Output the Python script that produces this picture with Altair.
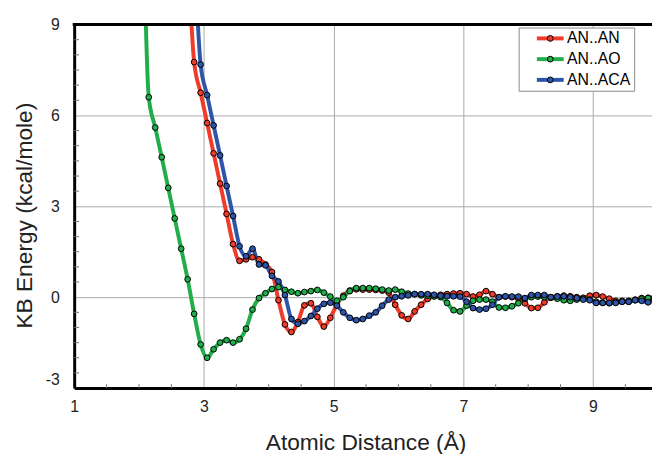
import altair as alt
import pandas as pd

FONT = "Liberation Sans"

series_names = ["AN..AN", "AN..AO", "AN..ACA"]
series_colors = ["#ee3b2a", "#22ad4b", "#2f55a8"]

# sampled every 0.1 Å starting at the given distance
an_an_start = 2.75
an_an = [11.5, 7.76, 6.75, 5.75, 4.75, 3.75, 2.75, 1.75, 1.2, 1.25,
         1.32, 1.25, 1.08, 0.83, -0.1, -0.9, -1.15, -0.82, -0.27, -0.2,
         -0.65, -0.97, -0.68, -0.25, 0.05, 0.22, 0.26, 0.25, 0.25, 0.24,
         0.22, 0.15, -0.25, -0.6, -0.72, -0.47, -0.25, -0.06, 0.03, 0.08,
         0.1, 0.12, 0.13, 0.1, 0.02, 0.08, 0.2, 0.1, 0.0, 0.02,
         0.0, -0.05, -0.2, -0.36, -0.35, -0.17, 0.0, 0.03, 0.05, 0.03,
         0.0, -0.02, 0.05, 0.07, 0.02, -0.05, -0.12, -0.15, -0.12, -0.08,
         -0.03, -0.02, 0.0]

an_ao_start = 2.05
an_ao = [14.0, 6.6, 5.6, 4.62, 3.61, 2.6, 1.6, 0.59, -0.55, -1.56,
         -2.0, -1.72, -1.5, -1.42, -1.5, -1.39, -1.04, -0.41, -0.03, 0.13,
         0.27, 0.33, 0.24, 0.18, 0.13, 0.17, 0.2, 0.24, 0.15, 0.02,
         -0.12, 0.0, 0.2, 0.3, 0.3, 0.3, 0.28, 0.25, 0.22, 0.25,
         0.18, 0.12, 0.1, 0.06, 0.05, 0.03, 0.0, -0.19, -0.43, -0.47,
         -0.28, -0.12, -0.08, -0.08, -0.15, -0.34, -0.35, -0.3, -0.2, -0.05,
         0.0, 0.02, 0.0, -0.02, -0.05, -0.1, -0.12, -0.08, -0.05, -0.08,
         -0.15, -0.18, -0.2, -0.17, -0.12, -0.15, -0.1, -0.05, -0.03, -0.02]

an_aca_start = 2.85
an_aca = [11.6, 7.68, 6.67, 5.67, 4.68, 3.67, 2.68, 1.68, 1.35, 1.6,
          1.08, 1.05, 0.7, 0.52, 0.07, -0.72, -0.88, -0.79, -0.62, -0.38,
          -0.22, -0.18, -0.28, -0.5, -0.68, -0.76, -0.72, -0.61, -0.5, -0.28,
          -0.08, 0.0, 0.03, 0.06, 0.1, 0.1, 0.1, 0.08, 0.05, 0.03,
          0.03, 0.02, -0.15, -0.36, -0.41, -0.38, -0.25, 0.0, 0.03, 0.02,
          0.02, -0.03, 0.07, 0.07, 0.07, 0.0, 0.02, 0.03, 0.0, -0.03,
          -0.08, -0.1, -0.19, -0.19, -0.19, -0.19, -0.15, -0.15, -0.1, -0.12,
          -0.17, -0.1]

x_ticks = [1, 3, 5, 7, 9]
y_ticks = [-3, 0, 3, 6, 9]
x_minor = [1.5, 2, 2.5, 3.5, 4, 4.5, 5.5, 6, 6.5, 7.5, 8, 8.5, 9.5]
y_minor = [-2.5, -2, -1.5, -1, -0.5, 0.5, 1, 1.5, 2, 2.5, 3.5, 4, 4.5, 5,
           5.5, 6.5, 7, 7.5, 8, 8.5]

rows = []
for name, start, vals in [("AN..AN", an_an_start, an_an),
                          ("AN..AO", an_ao_start, an_ao),
                          ("AN..ACA", an_aca_start, an_aca)]:
    for i, v in enumerate(vals):
        rows.append({"series": name, "x": round(start + 0.1 * i, 2), "y": v})
df = pd.DataFrame(rows)

W, H = 585, 368
xscale = alt.Scale(domain=[1, 9.91], nice=False, zero=False)
yscale = alt.Scale(domain=[-3, 9], nice=False, zero=False)

x_axis = alt.Axis(
    values=x_ticks, labelExpr="'' + datum.value", grid=True,
    gridColor="#a8a8a8", gridWidth=1,
    domainColor="black", domainWidth=3, ticks=False, labelFlush=False,
    labelFont=FONT, labelFontSize=16, labelColor="#222", labelPadding=11,
    title="Atomic Distance (Å)", titleFont=FONT, titleFontSize=23,
    titleFontWeight="normal", titleColor="#222", titleX=295, titleY=62,
    titleBaseline="alphabetic", titleAlign="center",
)
y_axis = alt.Axis(
    values=y_ticks, labelExpr="'' + datum.value", grid=True,
    gridColor="#a8a8a8", gridWidth=1,
    domainColor="black", domainWidth=3, ticks=False,
    labelFont=FONT, labelFontSize=16, labelColor="#222", labelPadding=15,
    labelOffset={"condition": {"test": "datum.value === -3", "value": -9}, "value": 0},
    title="KB Energy (kcal/mole)", titleFont=FONT, titleFontSize=23,
    titleFontWeight="normal", titleColor="#222", titleX=-43.5, titleY=193,
    titleBaseline="alphabetic", titleAlign="center", titleAngle=270,
)

X = alt.X("x:Q", scale=xscale, axis=x_axis)
Y = alt.Y("y:Q", scale=yscale, axis=y_axis)

nb = "\u00a0" * 5
legend_lines = alt.Legend(
    orient="none", legendX=450, legendY=3, title=None,
    symbolType="M-4,0H4", symbolSize=46, symbolStrokeWidth=4,
    symbolOffset=21, labelOffset=9,
    labelFont=FONT, labelFontSize=16, labelColor="black",
    labelExpr=f"datum.label + '{nb}'",
    padding=3, rowPadding=5, strokeColor="#888", fillColor="white", zindex=0,
)
legend_dots = alt.Legend(
    orient="none", legendX=450, legendY=3, title=None,
    symbolType="circle", symbolSize=34, symbolStrokeWidth=1,
    symbolStrokeColor="black", symbolOffset=21, labelOffset=9,
    labelFont=FONT, labelFontSize=16, labelOpacity=0,
    labelExpr=f"datum.label + '{nb}'",
    padding=3, rowPadding=5, zindex=1,
)

ytick_layer = alt.Chart(pd.DataFrame({"y": y_minor})).mark_rule(
    color="#777", strokeWidth=1
).encode(y=Y, x=alt.value(0), x2=alt.value(5))

xtick_layer = alt.Chart(pd.DataFrame({"x": x_minor})).mark_rule(
    color="#777", strokeWidth=1
).encode(x=X, y=alt.value(H), y2=alt.value(H - 4))

lines = alt.Chart(df).mark_line(
    strokeWidth=4, interpolate="monotone", clip=True
).encode(
    x=X, y=Y,
    color=alt.Color("series:N",
                    scale=alt.Scale(domain=series_names, range=series_colors),
                    legend=legend_lines),
)

points = alt.Chart(df).mark_circle(
    size=34, stroke="black", strokeWidth=1, opacity=1, clip=True
).encode(
    x=X, y=Y,
    fill=alt.Fill("series:N", scale=alt.Scale(range=series_colors),
                  sort=series_names, legend=legend_dots),
)

top_border = alt.Chart(pd.DataFrame({"y": [9]})).mark_rule(
    color="black", strokeWidth=3
).encode(y=Y, x=alt.value(-1.5), x2=alt.value(W))

chart = alt.layer(ytick_layer, xtick_layer, lines, points, top_border).properties(
    width=W, height=H,
    autosize=alt.AutoSizeParams(type="none"),
    padding={"left": 67, "top": 14, "right": 0, "bottom": 64},
    background="white",
).configure_view(stroke=None)

chart.save("out.html", embed_options={"renderer": "svg", "actions": False})
